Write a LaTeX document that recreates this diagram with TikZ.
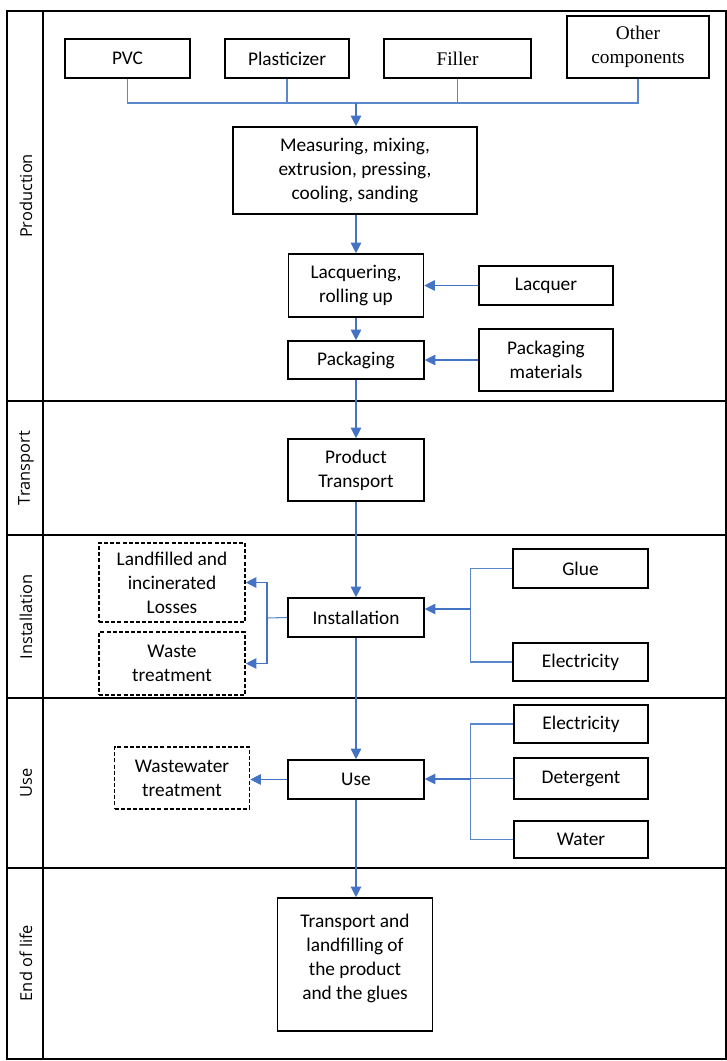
\documentclass[tikz,border=0pt]{standalone}
\usepackage{fontspec}
\setmainfont{Carlito}
\newfontfamily\serifb{Liberation Serif}
\newfontfamily\lanef{Open Sans}
\usetikzlibrary{arrows.meta}
\newlength{\upx}\setlength{\upx}{0.75pt}
\definecolor{flowc}{RGB}{91,135,205}
\definecolor{arrc}{RGB}{68,114,196}
\begin{document}
\begin{tikzpicture}[x=0.75pt,y=-0.75pt,
  box/.style={draw=black, line width=1.2pt, align=center, inner sep=0pt,
    font=\fontsize{14.5}{18}\selectfont, text=black},
  dbox/.style={box, dash pattern=on 3pt off 1.6pt},
  sz/.style 2 args={minimum width=#1\upx, minimum height=#2\upx},
  flow/.style={draw=flowc, line width=0.8pt},
  arr/.style={draw=arrc, line width=0.8pt, -{Triangle[length=8pt,width=8pt]}},
  lane/.style={font=\lanef\fontsize{12.3}{15}\selectfont, rotate=90, inner sep=0pt},
  frame/.style={draw=black, line width=1.3pt}
]
\useasboundingbox (0,0) rectangle (727,1061);

% lanes
\draw[frame] (7,11) rectangle (726,1059);
\draw[black, line width=2pt] (7,11) -- (7,1059);
\draw[frame] (43,11) -- (43,1059);
\draw[frame] (7,401) -- (726,401);
\draw[frame] (7,535) -- (726,535);
\draw[frame] (7,698) -- (726,698);
\draw[frame] (7,868) -- (726,868);
\node[lane] (lprod) at (26,196) {Production};
\node[lane] (ltrans) at (26,468) {Transport};
\node[lane] (linst) at (26,617) {Installation};
\node[lane] (luse) at (26,783) {Use};
\node[lane] (leol) at (26,963) {End of life};

% production
\node[box, sz={125}{39}] (pvc) at (127.5,58.5) {PVC};
\node[box, sz={124}{39}] (plast) at (287,58.5) {Plasticizer};
\node[box, sz={147}{39}, font=\serifb\fontsize{14.5}{18}\selectfont] (filler) at (457.5,58.5) {Filler};
\node[box, sz={142}{62}, font=\serifb\fontsize{14.5}{17.5}\selectfont] (other) at (638,47) {Other\\components};
\node[box, sz={244}{87}] (meas) at (355,170.5) {Measuring, mixing,\\extrusion, pressing,\\cooling, sanding};
\node[box, sz={135}{63}] (lacq) at (356,285.5) {Lacquering,\\rolling up};
\node[box, sz={134}{39}] (lacquer) at (546,285.5) {Lacquer};
\node[box, sz={136}{38}] (pack) at (356,360) {Packaging};
\node[box, sz={134}{62}] (packmat) at (546,360) {Packaging\\materials};

\coordinate (busmid) at (356,103);
\draw[flow] (pvc.south) -- (pvc.south |- busmid) -- (other.south |- busmid) -- (other.south);
\draw[flow] (plast.south) -- (plast.south |- busmid);
\draw[flow] (filler.south) -- (filler.south |- busmid);
\draw[arr] (busmid) -- (busmid |- meas.north);
\draw[arr] (meas.south -| lacq.north) -- (lacq.north);
\draw[arr] (lacquer.west) -- (lacq.east);
\draw[arr] (lacq.south) -- (pack.north);
\draw[arr] (packmat.west) -- (pack.east);

% transport
\node[box, sz={136}{62}] (trans) at (356,470) {Product\\Transport};
\draw[arr] (pack.south) -- (trans.north);

% installation
\node[box, sz={136}{39}] (inst) at (356,617.5) {Installation};
\node[dbox, sz={146}{79}] (landf) at (172,582.5) {Landfilled and\\incinerated\\Losses};
\node[dbox, sz={146}{63}] (waste) at (172,663.5) {Waste\\treatment};
\node[box, sz={135}{39}] (glue) at (580.5,568.5) {Glue};
\node[box, sz={135}{38}] (elec1) at (580.5,662) {Electricity};
\draw[arr] (trans.south) -- (inst.north);
\coordinate (instL) at (267,618);
\draw[flow] (inst.west) -- (instL);
\draw[arr] (instL) |- (landf.east);
\draw[arr] (instL) |- (waste.east);
\coordinate (instR) at (470.5,609);
\draw[flow] (glue.west) -- (glue.west -| instR) -- (elec1.west -| instR) -- (elec1.west);
\draw[arr] (instR) -- (instR -| inst.east);

% use
\node[box, sz={136}{39}] (use) at (356,779.5) {Use};
\node[dbox, sz={135}{62}] (ww) at (182,778) {Wastewater\\treatment};
\node[box, sz={134}{38}] (elec2) at (581,724) {Electricity};
\node[box, sz={134}{41}] (det) at (581,778.5) {Detergent};
\node[box, sz={134}{37}] (water) at (581,839.5) {Water};
\draw[arr] (inst.south) -- (use.north);
\draw[arr] (use.west) -- (use.west -| ww.east);
\coordinate (useR) at (470.5,779);
\draw[flow] (elec2.west) -- (elec2.west -| useR) -- (water.west -| useR) -- (water.west);
\draw[flow] (det.west) -- (det.west -| useR);
\draw[arr] (useR) -- (useR -| use.east);

% end of life
\node[box, sz={155}{133}] (eol) at (355,964.5) {Transport and\\landfilling of\\the product\\and the glues\\[-7pt]\mbox{}};
\draw[arr] (use.south) -- (use.south |- eol.north);
\end{tikzpicture}
\end{document}
